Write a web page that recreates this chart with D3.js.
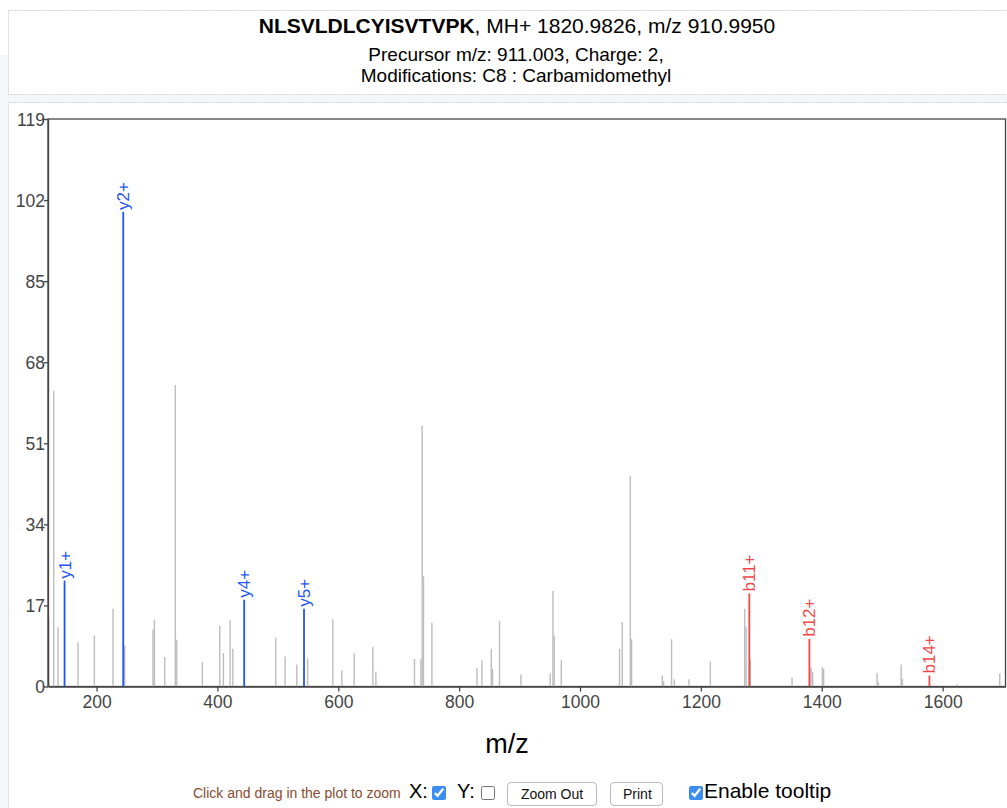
<!DOCTYPE html>
<html>
<head>
<meta charset="utf-8">
<script src="https://cdn.jsdelivr.net/npm/d3@7"></script>
<style>
  html, body { margin:0; padding:0; width:1007px; height:808px; overflow:hidden; background:#fff; font-family:"Liberation Sans", Arial, sans-serif; }
  #chart { position:absolute; left:0; top:0; }
  #controls { position:absolute; left:0; top:778px; width:1007px; height:28px; font-family:"Liberation Sans", Arial, sans-serif; }
  #controls .hint { position:absolute; left:193px; top:7px; font-size:14px; color:#8a4b2f; }
  #controls .lbl { position:absolute; font-size:20px; color:#000; }
  #controls input[type=checkbox] { position:absolute; margin:0; width:14px; height:14px; accent-color:#3b8df0; }
  #controls button { position:absolute; height:24px; font-size:14px; font-family:"Liberation Sans", Arial, sans-serif; background:#fff; border:1px solid #bbb; border-radius:4px; padding:0 12px; color:#111; }
</style>
</head>
<body>
<svg id="chart" width="1007" height="808"></svg>
<div id="controls">
  <span class="hint">Click and drag in the plot to zoom</span>
  <span class="lbl" style="left:409px;top:2px;">X:</span>
  <input type="checkbox" checked style="left:432px;top:8px;">
  <span class="lbl" style="left:457px;top:2px;">Y:</span>
  <input type="checkbox" style="left:481px;top:8px;">
  <button style="left:507px;top:4px;width:90px;">Zoom Out</button>
  <button style="left:610px;top:4px;width:53px;">Print</button>
  <input type="checkbox" checked style="left:689px;top:8px;">
  <span class="lbl" style="left:704px;top:1px;font-size:21px;">Enable tooltip</span>
</div>
<script>
// ---- Data ----
const titleSequence = "NLSVLDLCYISVTVPK";
const titleRest = ", MH+ 1820.9826, m/z 910.9950";
const subtitle1 = "Precursor m/z: 911.003, Charge: 2,";
const subtitle2 = "Modifications: C8 : Carbamidomethyl";
const xAxisTitle = "m/z";

const yTicks = [0, 17, 34, 51, 68, 85, 102, 119];
const xTicks = [200, 400, 600, 800, 1000, 1200, 1400, 1600];
const xDomain = [119.7, 1704];
const yDomain = [0, 119];

// unannotated peaks
const peakMz = [121.0,129.1,136.3,169.4,196.4,227.3,246.7,293.5,295.7,312.9,330.4,332.8,375.1,403.9,409.9,421.0,425.5,
  496.6,512.0,531.4,549.3,591.0,605.9,626.3,657.2,662.2,726.1,736.7,738.8,741.0,754.9,829.4,837.6,853.1,855.2,866.8,
  902.2,950.7,955.2,957.3,969.0,1065.4,1069.9,1083.2,1085.3,1136.1,1138.3,1151.5,1156.0,1180.3,1215.6,1272.4,1274.7,
  1281.8,1350.8,1382.3,1384.9,1401.0,1403.1,1491.5,1493.6,1531.3,1533.4,1624.0,1694.5];
const peakIntensity = [13.9,62.0,12.4,9.3,10.7,16.3,8.6,11.9,14.0,6.2,63.2,9.8,5.1,12.7,7.0,13.9,7.9,
  10.2,6.3,4.6,5.9,14.1,3.4,6.9,8.3,3.1,5.8,5.7,54.6,23.1,13.3,3.9,5.5,7.9,3.7,13.7,
  2.5,2.7,20.0,10.7,5.5,7.9,13.5,44.1,9.9,2.3,1.1,9.9,1.5,1.5,5.3,16.3,12.4,
  5.7,1.8,3.9,3.0,4.1,3.7,2.9,0.9,4.6,1.6,0.4,2.7];

// annotated ions
const ionLabels = ["y1+","y2+","y4+","y5+","b11+","b12+","b14+"];
const ionMz = [147.1,244.2,444.3,543.3,1280.1,1379.5,1578.1];
const ionIntensity = [22.2,99.5,18.2,16.3,19.5,10.0,2.3];
const ionType = ["y","y","y","y","b","b","b"];
const ionColors = {y:"#1f56f5", b:"#f04848"};

// ---- Drawing ----
(function draw(){
const svg = d3.select("#chart");
const W = 1007, H = 808;

// page decoration
svg.append("rect").attr("x",0).attr("y",55).attr("width",8).attr("height",H-55).attr("fill","#f3f7f9");
svg.append("rect").attr("x",8).attr("y",95).attr("width",W-8).attr("height",7).attr("fill","#f3f7f9");
svg.append("rect").attr("x",8.5).attr("y",10.5).attr("width",W).attr("height",84)
  .attr("fill","#fff").attr("stroke","#cfd3d6").attr("stroke-dasharray","2,1");
svg.append("rect").attr("x",8.5).attr("y",102.5).attr("width",W).attr("height",H)
  .attr("fill","#fff").attr("stroke","#cfd3d6").attr("stroke-dasharray","2,1");

// header
const t = svg.append("text").attr("x",517).attr("y",33).attr("text-anchor","middle")
  .style("font-size","21px").attr("fill","#000");
t.append("tspan").attr("font-weight","bold").text(titleSequence);
t.append("tspan").text(titleRest);
svg.append("text").attr("x",516).attr("y",60.5).attr("text-anchor","middle")
  .style("font-size","19px").attr("fill","#000").text(subtitle1);
svg.append("text").attr("x",516).attr("y",82).attr("text-anchor","middle")
  .style("font-size","19px").attr("fill","#000").text(subtitle2);

// plot area
const pL = 48, pR = 1005.5, pT = 119, pB = 686.5;
const x = d3.scaleLinear().domain(xDomain).range([pL, pR]);
const y = d3.scaleLinear().domain(yDomain).range([pB, pT]);

const g = svg.append("g");
g.append("rect").attr("x",pL).attr("y",pT).attr("width",pR-pL).attr("height",pB-pT)
  .attr("fill","none").attr("stroke","#444").attr("stroke-width",1.3);

// peaks
g.selectAll("line.peak").data(peakMz).join("line").attr("class","peak")
  .attr("x1",d=>x(d)).attr("x2",d=>x(d))
  .attr("y1",y(0)).attr("y2",(d,i)=>y(peakIntensity[i]))
  .attr("stroke","#bdbdbd").attr("stroke-width",1.4);

const ions = ionLabels.map((l,i)=>({label:l, mz:ionMz[i], inten:ionIntensity[i], type:ionType[i]}));
g.selectAll("line.ion").data(ions).join("line").attr("class","ion")
  .attr("x1",d=>x(d.mz)).attr("x2",d=>x(d.mz))
  .attr("y1",y(0)).attr("y2",d=>y(d.inten))
  .attr("stroke",d=>ionColors[d.type]).attr("stroke-width",1.8);
g.selectAll("text.ion").data(ions).join("text").attr("class","ion")
  .attr("transform",d=>`translate(${x(d.mz)+6},${y(d.inten)-2}) rotate(-90)`)
  .attr("text-anchor","start")
  .style("font-size","17px").attr("fill",d=>ionColors[d.type]).text(d=>d.label);

// axes
const xAxis = g.append("g").attr("transform",`translate(0,${pB})`)
  .call(d3.axisBottom(x).tickValues(xTicks).tickFormat(d3.format("d")).tickSize(5).tickSizeOuter(0));
const yAxis = g.append("g").attr("transform",`translate(${pL},0)`)
  .call(d3.axisLeft(y).tickValues(yTicks).tickFormat(d3.format("d")).tickSize(4).tickSizeOuter(0));
[xAxis, yAxis].forEach(a=>{
  a.attr("font-family","\"Liberation Sans\", Arial, sans-serif");
  a.select(".domain").attr("stroke","#444").attr("stroke-width",1.3);
  a.selectAll(".tick line").attr("stroke","#444").attr("stroke-width",1.3);
  a.selectAll(".tick text").attr("fill","#444").style("font-size","17.5px");
});
xAxis.selectAll(".tick text").attr("y",6).attr("dy","0.9em");
yAxis.selectAll(".tick text").attr("x",-3).attr("dy","0.35em");

svg.append("text").attr("x",507).attr("y",753).attr("text-anchor","middle")
  .style("font-size","27px").attr("fill","#000").text(xAxisTitle);
})();
</script>
</body>
</html>
